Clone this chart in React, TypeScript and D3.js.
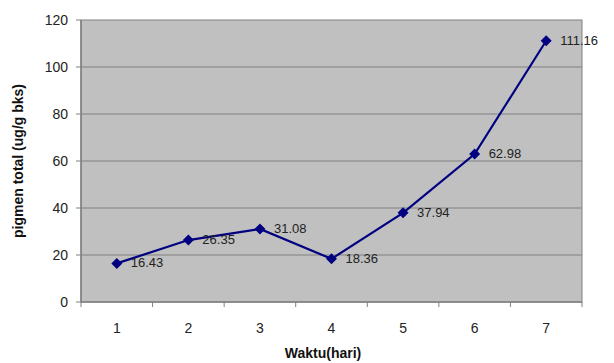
import React from "react";
import * as d3 from "d3";

const categories = ["1", "2", "3", "4", "5", "6", "7"];
const values = [16.43, 26.35, 31.08, 18.36, 37.94, 62.98, 111.16];
const yTicks = [0, 20, 40, 60, 80, 100, 120];

export default function App() {
  const W = 614, H = 363;
  const left = 81, right = 582, top = 20, bottom = 302;
  const x = d3.scaleBand().domain(categories).range([left, right]);
  const y = d3.scaleLinear().domain([0, 120]).range([bottom, top]);
  const line = d3.line<number>()
    .x((_, i) => x(categories[i])! + x.bandwidth() / 2)
    .y((d) => y(d));
  const font = "'Liberation Sans', Arial, sans-serif";
  const bounds = categories.map((c) => x(c)!).concat([right]);
  return (
    <svg width={W} height={H} style={{ position: "absolute", left: 0, top: 0 }} fontFamily={font}>
      <rect x={0} y={0} width={W} height={H} fill="#fff" />
      <rect x={left} y={top} width={right - left} height={bottom - top} fill="#c0c0c0" stroke="#808080" strokeWidth={1} />
      {yTicks.filter((t) => t > 0 && t < 120).map((t) => (
        <line key={t} x1={left} x2={right} y1={y(t)} y2={y(t)} stroke="#808080" strokeWidth={1} />
      ))}
      <line x1={left} x2={left} y1={top} y2={bottom} stroke="#808080" strokeWidth={1.5} />
      <line x1={left} x2={right} y1={bottom} y2={bottom} stroke="#808080" strokeWidth={1.5} />
      {yTicks.map((t) => (
        <g key={t}>
          <line x1={left - 5} x2={left} y1={y(t)} y2={y(t)} stroke="#808080" />
          <text x={left - 13} y={y(t)} dy="0.35em" textAnchor="end" fontSize={14} fill="#222">{t}</text>
        </g>
      ))}
      {bounds.map((b, i) => (
        <line key={i} x1={b} x2={b} y1={bottom} y2={bottom + 5} stroke="#808080" />
      ))}
      {categories.map((c) => (
        <text key={c} x={x(c)! + x.bandwidth() / 2} y={bottom + 31} textAnchor="middle" fontSize={14} fill="#222">{c}</text>
      ))}
      <path d={line(values) || ""} fill="none" stroke="#000080" strokeWidth={2.2} />
      {values.map((v, i) => {
        const cx = x(categories[i])! + x.bandwidth() / 2;
        const cy = y(v);
        return (
          <g key={i}>
            <path d={`M${cx},${cy - 5.5}L${cx + 5.5},${cy}L${cx},${cy + 5.5}L${cx - 5.5},${cy}Z`} fill="#000080" />
            <text x={cx + 14} y={cy} dy="0.3em" fontSize={13} fill="#222">{v.toFixed(2)}</text>
          </g>
        );
      })}
      <text x={323} y={358} textAnchor="middle" fontSize={14} fontWeight="bold" fill="#111">Waktu(hari)</text>
      <text transform={`translate(23,${(top + bottom) / 2}) rotate(-90)`} textAnchor="middle" fontSize={14} fontWeight="bold" fill="#111">pigmen total (ug/g bks)</text>
    </svg>
  );
}
